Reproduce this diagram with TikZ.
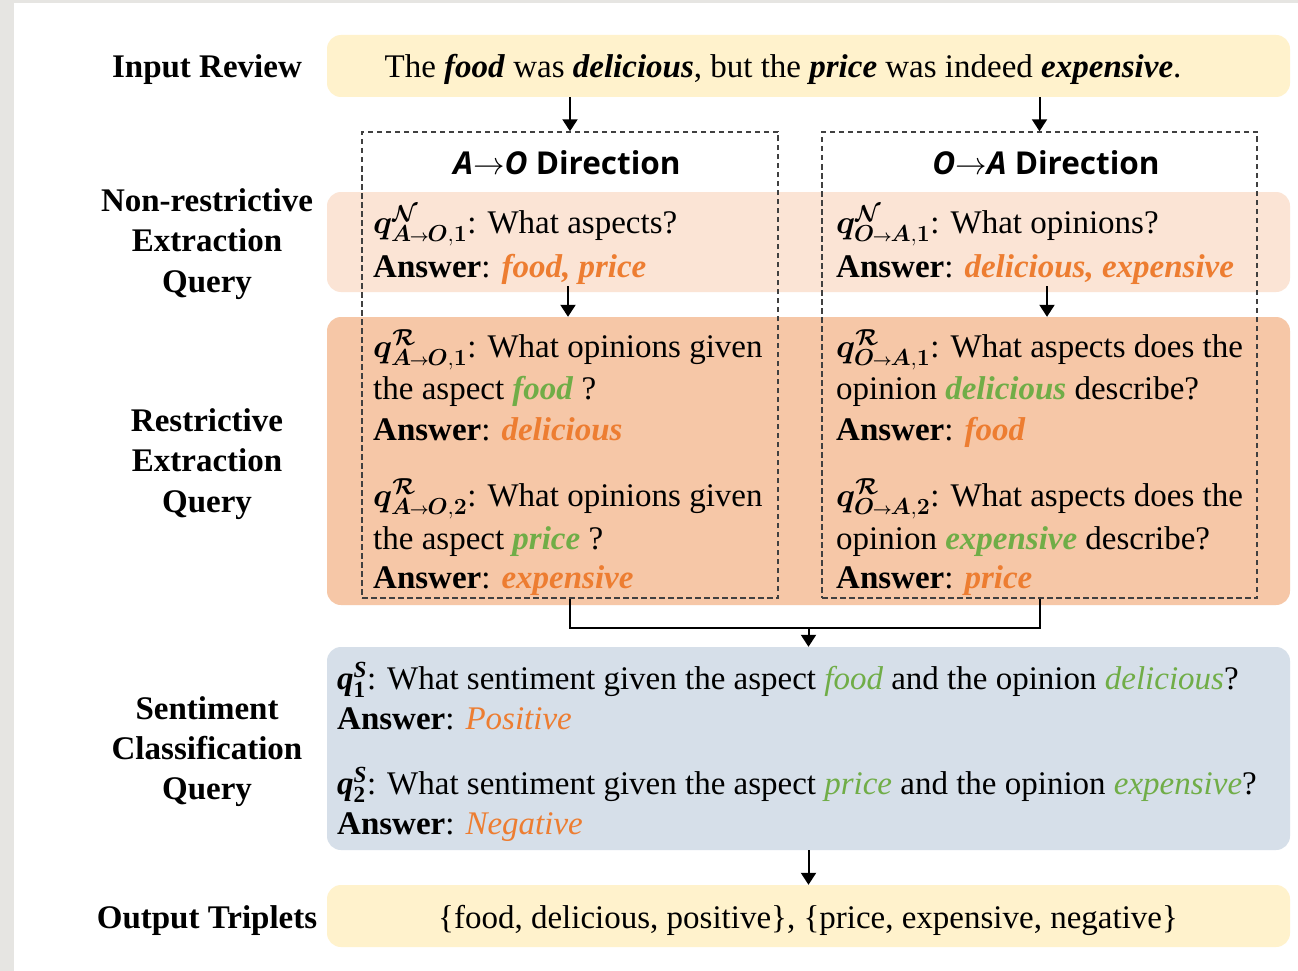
\RequirePackage{fix-cm}
\documentclass[tikz,border=0pt]{standalone}
\usepackage{fontspec}
\usepackage{amsmath}
\usepackage{bm}
\setmainfont{Liberation Serif}
\newfontfamily\headfont{Open Sans}
\usetikzlibrary{arrows.meta}

\definecolor{ansorange}{HTML}{ED7D31}
\definecolor{kwgreen}{HTML}{70AD47}
\definecolor{inyellow}{HTML}{FFF2CC}
\definecolor{nrpeach}{HTML}{FBE4D5}
\definecolor{rpeach}{HTML}{F6C7A7}
\definecolor{sblue}{HTML}{D6DFE9}
\definecolor{edgegray}{HTML}{E6E5E2}
\definecolor{dashgray}{HTML}{404040}

% highlighted words
\newcommand\answ[1]{\textcolor{ansorange}{\textbf{\textit{#1}}}}
\newcommand\kword[1]{\textcolor{kwgreen}{\textbf{\textit{#1}}}}
\newcommand\answi[1]{\textcolor{ansorange}{\textit{#1}}}
\newcommand\kwordi[1]{\textcolor{kwgreen}{\textit{#1}}}
\newcommand\Answ{\textbf{Answer}}
% query symbols: short arrow in the direction subscript
\newcommand\dirarrow{\mkern-1mu{\scriptscriptstyle\bm{\rightarrow}}\mkern-1mu}
\newcommand\qAO[2]{$\bm{q}^{\bm{\mathcal{#1}}}_{\bm{A}\dirarrow\bm{O},\bm{#2}}$}
\newcommand\qOA[2]{$\bm{q}^{\bm{\mathcal{#1}}}_{\bm{O}\dirarrow\bm{A},\bm{#2}}$}
\newcommand\qS[1]{\textbf{\textit{q}}$^{\textbf{\textit{S}}}_{\textbf{#1}}$}

\tikzset{
  band/.style={rounded corners=14pt, minimum width=963pt, inner sep=0pt, draw=none},
  dashbox/.style={draw=dashgray, dash pattern=on 5.5pt off 3.5pt, line width=1.4pt, inner sep=0pt},
  arr/.style={line width=2pt, -{Triangle[width=15pt,length=12pt]}},
  lbl/.style={font=\bfseries, anchor=base, inner sep=0pt},
  ln/.style={anchor=base west, inner sep=0pt},
  head/.style={anchor=base, inner sep=0pt, font=\headfont\bfseries\fontsize{31.5}{36}\selectfont},
}

\begin{document}
\begin{tikzpicture}[x=1pt,y=-1pt]
\fontsize{33}{40}\selectfont
\useasboundingbox (0,0) rectangle (1298,971);
\fill[white] (0,0) rectangle (1298,971);
\fill[edgegray] (0,0) rectangle (14,971);
\fill[edgegray] (0,0) rectangle (1298,3.5);

% coloured bands
\node[band, fill=inyellow, minimum height=62pt] (input) at (808.5,66) {};
\node[band, fill=nrpeach, minimum height=100pt] (nrband) at (808.5,242) {};
\node[band, fill=rpeach, minimum height=288pt] (rband) at (808.5,461) {};
\node[band, fill=sblue, minimum height=203pt] (sbox) at (808.5,748.5) {};
\node[band, fill=inyellow, minimum height=62pt] (outbox) at (808.5,916) {};

% the two direction frames
\node[dashbox, minimum width=416pt, minimum height=466pt] (ldir) at (570,365) {};
\node[dashbox, minimum width=435pt, minimum height=466pt] (rdir) at (1039.5,365) {};

% row labels
\node[lbl] (labin) at (207,78) {Input Review};
\node[lbl] (labnr1) at (207,211) {Non-restrictive};
\node[lbl] (labnr2) at (207,251) {Extraction};
\node[lbl] (labnr3) at (207,292) {Query};
\node[lbl] (labr1) at (207,431) {Restrictive};
\node[lbl] (labr2) at (207,471) {Extraction};
\node[lbl] (labr3) at (207,512) {Query};
\node[lbl] (labs1) at (207,719) {Sentiment};
\node[lbl] (labs2) at (207,759) {Classification};
\node[lbl] (labs3) at (207,799) {Query};
\node[lbl] (labout) at (207,928) {Output Triplets};

% input sentence
\node[anchor=base, inner sep=0pt] (review) at (783,78)
  {The \textbf{\textit{food}} was \textbf{\textit{delicious}}, but the \textbf{\textit{price}} was indeed \textbf{\textit{expensive}}.};

% direction headers
\node[head] (headL) at (567,175) {\textit{A}$\rightarrow$\textit{O} Direction};
\node[head] (headR) at (1046,175) {\textit{O}$\rightarrow$\textit{A} Direction};

% non-restrictive queries
\node[ln] (nrL1) at (373,233) {\qAO{N}{1}: What aspects?};
\node[ln] (nrL2) at (373,277) {\Answ: \answ{food, price}};
\node[ln] (nrR1) at (836,233) {\qOA{N}{1}: What opinions?};
\node[ln] (nrR2) at (836,277) {\Answ: \answ{delicious, expensive}};

% restrictive queries, A->O
\node[ln] (rL1) at (373,357) {\qAO{R}{1}: What opinions given};
\node[ln] (rL2) at (373,399) {the aspect \kword{food} ?};
\node[ln] (rL3) at (373,440) {\Answ: \answ{delicious}};
\node[ln] (rL4) at (373,506) {\qAO{R}{2}: What opinions given};
\node[ln] (rL5) at (373,549) {the aspect \kword{price} ?};
\node[ln] (rL6) at (373,588) {\Answ: \answ{expensive}};

% restrictive queries, O->A
\node[ln] (rR1) at (836,357) {\qOA{R}{1}: What aspects does the};
\node[ln] (rR2) at (836,399) {opinion \kword{delicious} describe?};
\node[ln] (rR3) at (836,440) {\Answ: \answ{food}};
\node[ln] (rR4) at (836,506) {\qOA{R}{2}: What aspects does the};
\node[ln] (rR5) at (836,549) {opinion \kword{expensive} describe?};
\node[ln] (rR6) at (836,588) {\Answ: \answ{price}};

% sentiment queries
\node[ln] (s1) at (337,689) {\qS{1}: What sentiment given the aspect \kwordi{food} and the opinion \kwordi{delicious}?};
\node[ln] (s2) at (337,729) {\Answ: \answi{Positive}};
\node[ln] (s3) at (337,794) {\qS{2}: What sentiment given the aspect \kwordi{price} and the opinion \kwordi{expensive}?};
\node[ln] (s4) at (337,834) {\Answ: \answi{Negative}};

% output
\node[anchor=base, inner sep=0pt] (triplets) at (808,928)
  {\{food, delicious, positive\}, \{price, expensive, negative\}};

% connectors
\draw[arr] (input.south -| ldir.north) -- (ldir.north);
\draw[arr] (input.south -| rdir.north) -- (rdir.north);
\coordinate (nrdownL) at (568,286);
\coordinate (nrdownR) at (1047,286);
\draw[arr] (nrdownL) -- (nrdownL |- rband.north);
\draw[arr] (nrdownR) -- (nrdownR |- rband.north);
\draw[line width=2pt] (ldir.south) -- ++(0,29) coordinate (join) -| (rdir.south);
\draw[arr] (join -| sbox.north) -- (sbox.north);
\draw[arr] (sbox.south) -- (outbox.north);
\end{tikzpicture}
\end{document}
